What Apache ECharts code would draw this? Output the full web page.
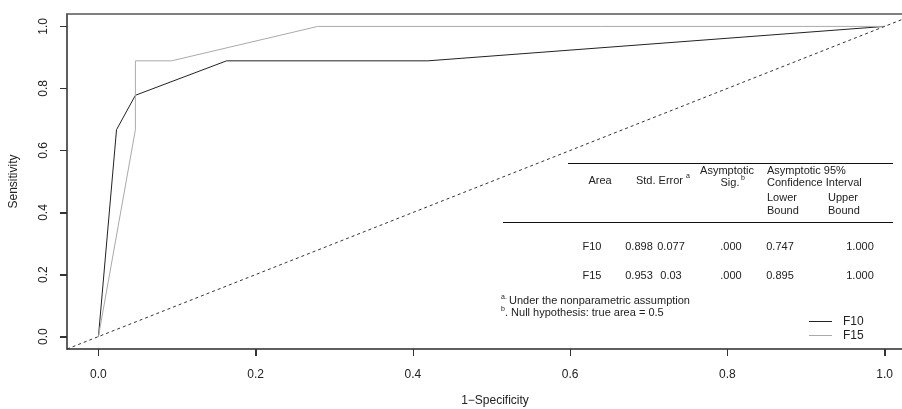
<!DOCTYPE html>
<html>
<head>
<meta charset="utf-8">
<script src="https://cdn.jsdelivr.net/npm/echarts@6/dist/echarts.min.js"></script>
<style>
html,body{margin:0;padding:0;background:#fff;}
#c{width:902px;height:409px;}
</style>
</head>
<body>
<div id="c"></div>
<script>
// ---- data ----
const f10Fpr = [0, 0.023, 0.047, 0.163, 0.419, 1];
const f10Tpr = [0, 0.667, 0.778, 0.889, 0.889, 1];
const f15Fpr = [0, 0.047, 0.047, 0.093, 0.279, 1];
const f15Tpr = [0, 0.667, 0.889, 0.889, 1, 1];
const refLine = [-0.04, 1.04];
const tickValues = [0, 0.2, 0.4, 0.6, 0.8, 1.0];
const seriesNames = ['F10', 'F15'];
const tableHeader = ['Area', 'Std. Error', 'Asymptotic', 'Sig.', 'Asymptotic 95%', 'Confidence Interval', 'Lower', 'Bound', 'Upper', 'Bound'];
const tableRows = [
  ['F10', '0.898', '0.077', '.000', '0.747', '1.000'],
  ['F15', '0.953', '0.03', '.000', '0.895', '1.000']
];
const footnotes = ['Under the nonparametric assumption', '. Null hypothesis: true area = 0.5'];

const FONT = '"Liberation Sans", Arial, Helvetica, sans-serif';
const zip = (xs, ys) => xs.map((x, i) => [x, ys[i]]);

const chart = echarts.init(document.getElementById('c'), null, {renderer: 'canvas'});

function txt(t, x, y, align, size, extra) {
  return Object.assign({
    type: 'text', x: x, y: y,
    style: {text: t, fill: '#222', font: (size || 11) + 'px ' + FONT, align: align || 'left', verticalAlign: 'middle'},
    z: 100
  }, extra || {});
}
function seg(x1, y1, x2, y2, color) {
  return {type: 'line', shape: {x1: x1, y1: y1, x2: x2, y2: y2}, style: {stroke: color || '#111', lineWidth: 1}, z: 100, silent: true};
}
function hline(x1, x2, y) { return seg(x1, y, x2, y, '#111'); }

const colX = [592, 639, 671, 731, 780, 860];
const rowY = [247, 276];
const graphics = [
  hline(568, 893, 163.5),
  hline(503, 893, 222.5),
  txt(tableHeader[0], 600, 181, 'center'),
  txt(tableHeader[1], 683, 181, 'right'),
  txt('a', 686, 176, 'left', 7),
  txt(tableHeader[2], 727, 171, 'center'),
  txt(tableHeader[3], 730, 183, 'center'),
  txt('b', 741, 178, 'left', 7),
  txt(tableHeader[4], 767, 171, 'left'),
  txt(tableHeader[5], 767, 183, 'left'),
  txt(tableHeader[6], 767, 197.5, 'left'),
  txt(tableHeader[7], 767, 210.5, 'left'),
  txt(tableHeader[8], 828, 197.5, 'left'),
  txt(tableHeader[9], 828, 210.5, 'left'),
  txt('a.', 501, 297, 'left', 7),
  txt(footnotes[0], 509, 301, 'left', 11),
  txt('b', 501, 309, 'left', 7),
  txt(footnotes[1], 505, 313, 'left', 11),
  txt('1\u2212Specificity', 495, 401, 'center', 12)
];
tableRows.forEach((row, r) => {
  row.forEach((cell, c) => {
    graphics.push(txt(cell, colX[c], rowY[r], 'center'));
  });
});

const axisLineStyle = {color: '#555', width: 1.5};
const option = {
  animation: false,
  backgroundColor: '#fff',
  textStyle: {fontFamily: FONT},
  grid: {left: 67, top: 14, right: -14, bottom: 60, show: true, borderColor: '#555', borderWidth: 1.5,
    containLabel: false, outerBoundsMode: 'none'},
  xAxis: {
    type: 'value', min: -0.04, max: 1.04,
    splitLine: {show: false},
    axisLine: {show: true, onZero: false, lineStyle: axisLineStyle},
    axisTick: {show: true, customValues: tickValues, length: 7, lineStyle: {color: '#333'}},
    axisLabel: {customValues: tickValues, margin: 20, color: '#222', fontSize: 12, fontFamily: FONT,
      formatter: v => v.toFixed(1)}
  },
  yAxis: {
    type: 'value', min: -0.04, max: 1.04,
    name: 'Sensitivity', nameLocation: 'middle', nameGap: 47, nameRotate: 90,
    nameTextStyle: {color: '#222', fontSize: 12, fontFamily: FONT},
    splitLine: {show: false},
    axisLine: {show: true, onZero: false, lineStyle: axisLineStyle},
    axisTick: {show: true, customValues: tickValues, length: 7, lineStyle: {color: '#333'}},
    axisLabel: {customValues: tickValues, margin: 17, rotate: 90, color: '#222', fontSize: 12, fontFamily: FONT,
      formatter: v => v.toFixed(1)}
  },
  legend: {
    data: seriesNames, orient: 'vertical', left: 809, top: 315.5, padding: 0,
    icon: 'rect', itemWidth: 23, itemHeight: 1, itemGap: 2,
    textStyle: {color: '#222', fontSize: 12, fontFamily: FONT, padding: [0, 0, 0, 6]}
  },
  series: [
    {name: seriesNames[0], type: 'line', data: zip(f10Fpr, f10Tpr), symbol: 'none', lineStyle: {color: '#222', width: 1}, itemStyle: {color: '#222'}},
    {name: seriesNames[1], type: 'line', data: zip(f15Fpr, f15Tpr), symbol: 'none', lineStyle: {color: '#aaa', width: 1}, itemStyle: {color: '#aaa'}},
    {name: 'ref', type: 'line', data: zip(refLine, refLine), symbol: 'none', lineStyle: {color: '#333', width: 1, type: [3, 3]}, silent: true}
  ],
  graphic: {elements: graphics}
};
chart.setOption(option);

// Tick marks placed through the library's own axis scales (fallback: ECharts v6 hides edge ticks here)
const x0 = chart.convertToPixel({xAxisIndex: 0}, refLine[0]);
const y0 = chart.convertToPixel({yAxisIndex: 0}, refLine[0]);
const tickMarks = [];
tickValues.forEach(v => {
  const px = Math.round(chart.convertToPixel({xAxisIndex: 0}, v)) + 0.5;
  tickMarks.push(seg(px, y0, px, y0 + 7, '#333'));
  const py = Math.round(chart.convertToPixel({yAxisIndex: 0}, v)) + 0.5;
  tickMarks.push(seg(x0, py, x0 - 7, py, '#333'));
});
chart.setOption({graphic: {elements: graphics.concat(tickMarks)}});
</script>
</body>
</html>
